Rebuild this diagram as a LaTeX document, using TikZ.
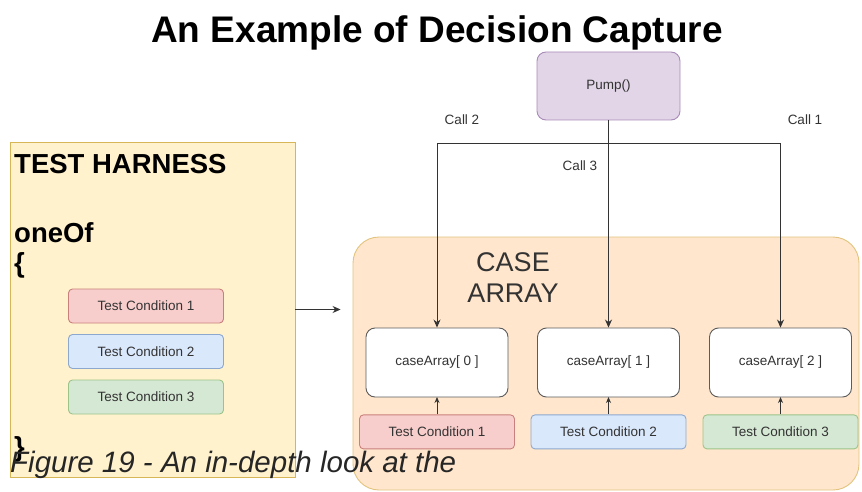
\documentclass[tikz,border=0pt]{standalone}
\usepackage{fontspec}
\setmainfont{Liberation Sans}
\usetikzlibrary{arrows.meta,positioning}
\definecolor{harnessfill}{HTML}{FFF2CC}
\definecolor{harnessline}{HTML}{D6B656}
\definecolor{casefill}{HTML}{FFE6CC}
\definecolor{caseline}{HTML}{E2C47E}
\definecolor{redfill}{HTML}{F8CECC}
\definecolor{redline}{HTML}{C9807C}
\definecolor{bluefill}{HTML}{DAE8FC}
\definecolor{blueline}{HTML}{8CA8CF}
\definecolor{greenfill}{HTML}{D5E8D4}
\definecolor{greenline}{HTML}{9CC48A}
\definecolor{pumpfill}{HTML}{E1D5E7}
\definecolor{pumpline}{HTML}{A98BB8}
\definecolor{inkgray}{HTML}{333333}
\newcommand{\diagtxt}{\fontsize{13.5}{16}\selectfont}
\newcommand{\bigtxt}{\fontsize{27.5}{31}\selectfont}
\tikzset{
  condbox/.style={rounded corners=4pt, line width=0.9pt, align=center, minimum width=155pt, minimum height=34pt, inner sep=0pt, font=\diagtxt, text=inkgray},
  redcond/.style={condbox, draw=redline, fill=redfill},
  bluecond/.style={condbox, draw=blueline, fill=bluefill},
  greencond/.style={condbox, draw=greenline, fill=greenfill},
  slotbox/.style={rounded corners=9pt, draw=inkgray!80, line width=0.9pt, fill=white, minimum width=142pt, minimum height=69pt, inner sep=0pt, font=\diagtxt, text=inkgray},
  calllabel/.style={font=\diagtxt, text=inkgray, inner sep=0pt},
  harnesstext/.style={font=\bigtxt\bfseries, anchor=base west, inner sep=0pt},
  arrow/.style={-{Stealth[length=8pt,width=7pt]}, line width=0.9pt, draw=inkgray}
}
\begin{document}
\begin{tikzpicture}[x=1pt,y=-1pt]
  \useasboundingbox (0,0) rectangle (862,492);
  % title
  \node[font=\fontsize{37}{42}\selectfont\bfseries, anchor=base, inner sep=0pt] (title) at (437,43) {An Example of Decision Capture};

  % test harness
  \node[draw=harnessline, fill=harnessfill, line width=0.9pt, minimum width=285pt, minimum height=335pt, inner sep=0pt] (harness) at (152.5,309.5) {};
  \node[harnesstext] (harnessname) at (14,173) {TEST HARNESS};
  \node[harnesstext] (oneof) at (14,242) {oneOf};
  \node[harnesstext] (openbrace) at (14,272) {\{};
  \node[harnesstext] (closebrace) at (14,456) {\}};
  \node[redcond] (hcond1) at (146,306) {Test Condition 1};
  \node[bluecond] (hcond2) at (146,351.5) {Test Condition 2};
  \node[greencond] (hcond3) at (146,397) {Test Condition 3};

  % case array
  \node[draw=caseline, fill=casefill, line width=0.9pt, rounded corners=26pt, minimum width=506pt, minimum height=253pt, inner sep=0pt] (casearray) at (606,363.5) {};
  \node[font=\fontsize{27}{31}\selectfont, align=center, inner sep=0pt, text=inkgray] (casename) at (513,278) {CASE\\ARRAY};
  \node[slotbox] (slot0) at (437,362.5) {caseArray[ 0 ]};
  \node[slotbox] (slot1) at (608.5,362.5) {caseArray[ 1 ]};
  \node[slotbox] (slot2) at (780.5,362.5) {caseArray[ 2 ]};
  \node[redcond, below=17pt of slot0] (ccond1) {Test Condition 1};
  \node[bluecond, below=17pt of slot1] (ccond2) {Test Condition 2};
  \node[greencond, below=17pt of slot2] (ccond3) {Test Condition 3};
  \foreach \i in {1,2,3}
    \draw[arrow, -{Stealth[length=6pt,width=5pt]}] (ccond\i) -- (ccond\i |- 0,397);

  % pump calls
  \node[rounded corners=9pt, draw=pumpline, fill=pumpfill, line width=0.9pt, minimum width=143pt, minimum height=68pt, inner sep=0pt, font=\diagtxt, text=inkgray] (pump) at (608.5,86) {Pump()};
  \coordinate (bus) at (608.5,143);
  \draw[arrow] (pump) -- (slot1);
  \draw[arrow] (pump.south) -- (bus) -| (slot0);
  \draw[arrow] (pump.south) -- (bus) -| (slot2);
  \node[calllabel] (call2) at (462,120) {Call 2};
  \node[calllabel] (call1) at (805,120) {Call 1};
  \node[calllabel] (call3) at (580,166) {Call 3};

  \draw[arrow, shorten >=12pt] (harness) -- (harness -| casearray.west);

  % caption
  \node[font=\fontsize{29.5}{34}\selectfont\itshape, anchor=base west, inner sep=0pt, text=black!85] (caption) at (10,472) {Figure 19 - An in-depth look at the};
\end{tikzpicture}
\end{document}
